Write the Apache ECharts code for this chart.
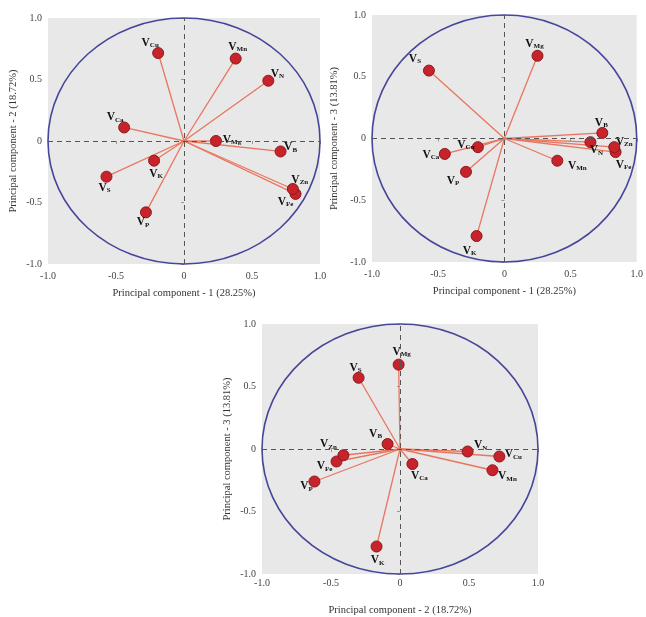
<!DOCTYPE html>
<html>
<head>
<meta charset="utf-8">
<style>
html,body{margin:0;padding:0;background:#fff;}
#main{width:646px;height:617px;}
</style>
<script src="https://cdn.jsdelivr.net/npm/echarts@6/dist/echarts.min.js"></script>
</head>
<body>
<div id="main"></div>
<script>
// variable names (subscript of V)
var names = ['N', 'P', 'K', 'Ca', 'Mg', 'S', 'Fe', 'Mn', 'Zn', 'Cu', 'B'];

// panel 1 : PC1 (x) vs PC2 (y)
var p1x = [0.62, -0.28, -0.22, -0.44, 0.235, -0.57, 0.82, 0.38, 0.80, -0.19, 0.71];
var p1y = [0.49, -0.58, -0.16, 0.11, 0.00, -0.29, -0.43, 0.67, -0.39, 0.715, -0.085];

// panel 2 : PC1 (x) vs PC3 (y)
var p2x = [0.65, -0.29, -0.21, -0.45, 0.25, -0.57, 0.84, 0.40, 0.83, -0.20, 0.74];
var p2y = [-0.03, -0.27, -0.79, -0.125, 0.67, 0.55, -0.11, -0.18, -0.07, -0.07, 0.045];

// panel 3 : PC2 (x) vs PC3 (y)
var p3x = [0.49, -0.62, -0.17, 0.09, -0.01, -0.30, -0.46, 0.67, -0.41, 0.72, -0.09];
var p3y = [-0.02, -0.26, -0.78, -0.12, 0.675, 0.57, -0.10, -0.17, -0.05, -0.06, 0.04];

// axis ticks
var tickValues = [-1, -0.5, 0, 0.5, 1];
var tickLabels = ['-1.0', '-0.5', '0', '0.5', '1.0'];

var pc1Title = 'Principal component - 1 (28.25%)';
var pc2Title = 'Principal component - 2 (18.72%)';
var pc3Title = 'Principal component - 3 (13.81%)';

// label offsets (px from point centre), same order as names
var lab1 = [[9,-7],[-3,10],[2,13],[-9,-10],[16,-1],[-2,11],[-10,8],[2,-12],[7,-9],[-8,-10],[10,-4]];
var lab2 = [[6,8],[-13,9],[-7,15],[-14,1],[-3,-12],[-14,-12],[8,13],[20,5],[10,-5],[-12,-2],[-1,-10]];
var lab3 = [[13,-6],[-8,5],[1,14],[7,12],[3,-13],[-3,-10],[-12,5],[15,6],[-15,-11],[14,-2],[-12,-10]];

var FONT = "'Liberation Serif', 'DejaVu Serif', serif";

function fmtTick(v){
    for (var i = 0; i < tickValues.length; i++) {
        if (Math.abs(tickValues[i] - v) < 1e-9) return tickLabels[i];
    }
    return '';
}

function makeAxis(idx, title, nameGap, labelMargin){
    return {
        type: 'value',
        gridIndex: idx,
        min: -1, max: 1, interval: 0.5,
        name: title,
        nameLocation: 'middle',
        nameGap: nameGap,
        nameTextStyle: {fontFamily: FONT, fontSize: 10.5, color: '#333'},
        axisLine: {show: false},
        axisTick: {show: true, length: 3, lineStyle: {color: '#999'}},
        splitLine: {show: false},
        axisLabel: {formatter: fmtTick, fontFamily: FONT, fontSize: 10, color: '#444', margin: labelMargin}
    };
}

function makeSeries(idx, xs, ys, offs){
    var pts = [];
    for (var i = 0; i < names.length; i++) {
        pts.push({
            name: names[i],
            value: [xs[i], ys[i]],
            label: {offset: offs[i]}
        });
    }
    return [
        {   // correlation circle
            type: 'custom',
            xAxisIndex: idx, yAxisIndex: idx,
            z: 2, silent: true,
            data: [[0, 0]],
            renderItem: function(params, api){
                var c = api.coord([0, 0]);
                var e = api.coord([1, 1]);
                return {
                    type: 'ellipse',
                    shape: {cx: c[0], cy: c[1], rx: e[0] - c[0], ry: c[1] - e[1]},
                    style: {fill: 'none', stroke: '#46469a', lineWidth: 1.6}
                };
            }
        },
        {   // vectors from origin
            type: 'custom',
            xAxisIndex: idx, yAxisIndex: idx,
            z: 3, silent: true,
            data: pts.map(function(p){ return p.value; }),
            renderItem: function(params, api){
                var o = api.coord([0, 0]);
                var p = api.coord([api.value(0), api.value(1)]);
                return {
                    type: 'line',
                    shape: {x1: o[0], y1: o[1], x2: p[0], y2: p[1]},
                    style: {stroke: '#e8765f', lineWidth: 1.3}
                };
            }
        },
        {   // points + labels, dashed zero lines
            type: 'scatter',
            xAxisIndex: idx, yAxisIndex: idx,
            z: 4,
            symbolSize: 11,
            itemStyle: {color: '#c8232b', borderColor: '#8a1a1e', borderWidth: 1, opacity: 1},
            label: {
                show: true,
                position: 'inside',
                formatter: function(p){ return '{v|V}{s|' + p.name + '}'; },
                rich: {
                    v: {fontFamily: FONT, fontWeight: 'bold', fontSize: 11.5, color: '#111', lineHeight: 14},
                    s: {fontFamily: FONT, fontWeight: 'bold', fontSize: 7, color: '#111', lineHeight: 14, padding: [5, 0, 0, 0]}
                }
            },
            markLine: {
                silent: true,
                symbol: 'none',
                label: {show: false},
                lineStyle: {color: '#555', type: [5, 4], width: 1},
                data: [{xAxis: 0}, {yAxis: 0}]
            },
            data: pts
        }
    ];
}

var myChart = echarts.init(document.getElementById('main'));

var option = {
    backgroundColor: '#fff',
    animation: false,
    grid: [
        {left: 48, top: 18, width: 272, height: 246, show: true, backgroundColor: '#e8e8e8', borderWidth: 0},
        {left: 372, top: 15, width: 266, height: 247, show: true, backgroundColor: '#e8e8e8', borderWidth: 0},
        {left: 262, top: 324, width: 276, height: 252, show: true, backgroundColor: '#e8e8e8', borderWidth: 0}
    ],
    xAxis: [
        makeAxis(0, pc1Title, 24, 7),
        makeAxis(1, pc1Title, 24, 7),
        makeAxis(2, pc2Title, 31, 4)
    ],
    yAxis: [
        makeAxis(0, pc2Title, 29, 6),
        makeAxis(1, pc3Title, 32, 6),
        makeAxis(2, pc3Title, 29, 6)
    ],
    series: [].concat(
        makeSeries(0, p1x, p1y, lab1),
        makeSeries(1, p2x, p2y, lab2),
        makeSeries(2, p3x, p3y, lab3)
    )
};

myChart.setOption(option);
</script>
</body>
</html>
